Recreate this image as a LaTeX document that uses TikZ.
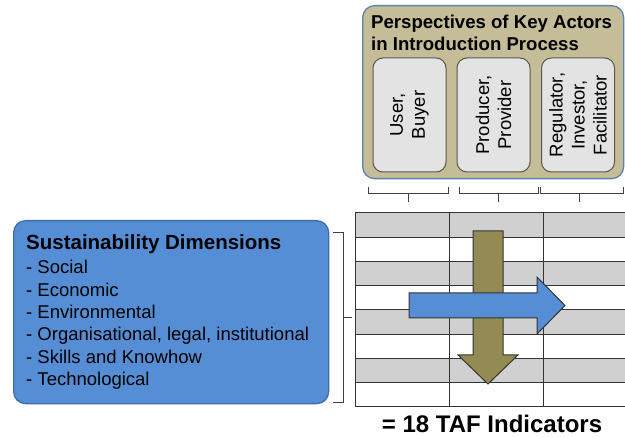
\documentclass[tikz,border=0pt]{standalone}
\usepackage{fontspec}
\setmainfont{Liberation Sans}
\usetikzlibrary{positioning}
\definecolor{dimblue}{HTML}{558ED5}
\definecolor{dimedge}{HTML}{3E6DAD}
\definecolor{actortan}{HTML}{C4BD97}
\definecolor{actoredge}{HTML}{5B80B2}
\definecolor{rolegray}{HTML}{E3E3E3}
\definecolor{roleedge}{HTML}{595748}
\definecolor{rowgray}{HTML}{D0D0D0}
\definecolor{olivearrow}{HTML}{948A54}

\begin{document}
\begin{tikzpicture}[
  x=1pt, y=-1pt,
  panel/.style={
    draw, line width=1.3pt, rounded corners=12pt, anchor=north west,
    inner sep=0pt
  },
  dimbox/.style={panel, fill=dimblue, draw=dimedge,
                 minimum width=315pt, minimum height=183pt},
  actorbox/.style={panel, fill=actortan, draw=actoredge,
                   minimum width=261pt, minimum height=173pt},
  role/.style={
    draw=roleedge, line width=1pt, fill=rolegray, rounded corners=10pt,
    rotate=90, minimum width=114pt, minimum height=73pt, inner sep=0pt,
    align=center, font=\fontsize{18.5}{22}\selectfont
  },
  lbl/.style={anchor=north west, inner sep=0pt, align=left},
  brk/.style={line width=0.9pt, black!75},
  gridline/.style={line width=1pt, black!80},
  bigarrow/.style={line width=1pt, draw=black!80, line join=miter},
]
\useasboundingbox (0,0) rectangle (625,438);

% ---- sustainability dimensions --------------------------------------------
\node[dimbox] (dims) at (13,220) {};
\node[lbl, font=\fontsize{18.5}{22.3}\selectfont] (dimtext) at (26,234)
  {{\fontsize{20.5}{22.3}\selectfont\bfseries Sustainability Dimensions}\\[2.5pt]
   - Social\\ - Economic\\ - Environmental\\
   - Organisational, legal, institutional\\
   - Skills and Knowhow\\ - Technological};

% ---- key actors -------------------------------------------------------------
\node[actorbox] (actors) at (362,5) {};
\node[lbl, font=\fontsize{18.6}{22}\selectfont\bfseries] (actortext) at (371,14.5)
  {Perspectives of Key Actors\\ in Introduction Process};

\node[role] (user)      at (409.5,115) {User,\\ Buyer};
\node[role] (producer)  at (493.5,115) {Producer,\\ Provider};
\node[role] (regulator) at (578,115)   {Regulator,\\ Investor,\\ Facilitator};

% ---- brackets -----------------------------------------------------------------
\foreach \l/\m/\r in {368/408/448, 459/498/538, 540/579/623}
  \draw[brk] (\l,187) -- (\l,193) -- (\r,193) -- (\r,187)
             (\m,193) -- (\m,202);
\draw[brk] (333,232) -- (343,232) -- (343,402) -- (333,402)
           (343,317) -- (352,317);

% ---- indicator grid -----------------------------------------------------------
\foreach \i in {0,2,4,6}
  \fill[rowgray] (355,213+24.25*\i) rectangle (625,213+24.25*\i+24.25);
\foreach \i in {0,...,8}
  \draw[gridline] (355,213+24.25*\i) -- (625,213+24.25*\i);
\foreach \xx in {355,449,543}
  \draw[gridline] (\xx,213) -- (\xx,407);

% ---- crossing arrows ----------------------------------------------------------
\draw[bigarrow, fill=olivearrow] (473,231) -- (503,231) -- (503,355)
  -- (518,355) -- (488,384) -- (458,355) -- (473,355) -- cycle;
\draw[bigarrow, fill=dimblue] (409,293) -- (537,293) -- (537,277)
  -- (565,305.5) -- (537,334) -- (537,318) -- (409,318) -- cycle;

% ---- result -------------------------------------------------------------------
\node[anchor=base, inner sep=0pt, font=\fontsize{24}{28}\selectfont\bfseries]
  (result) at (492,433) {= 18 TAF Indicators};

\end{tikzpicture}
\end{document}
